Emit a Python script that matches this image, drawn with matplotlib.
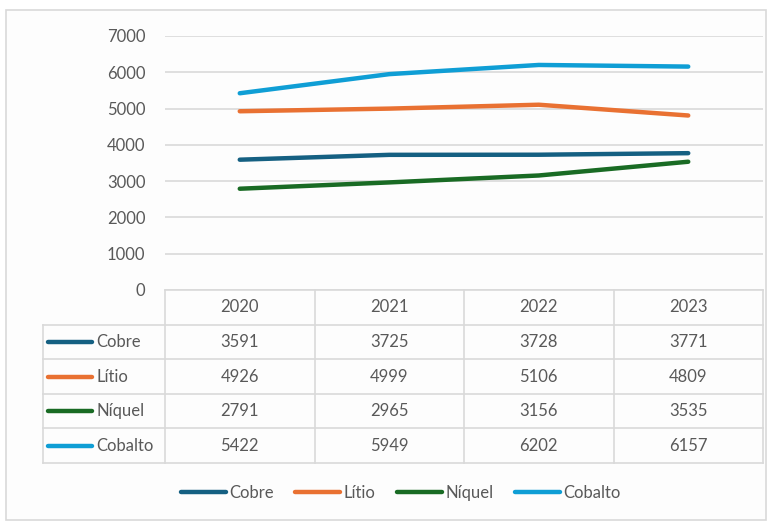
import numpy as np
import matplotlib
matplotlib.use('Agg')
from matplotlib import pyplot as plt
from matplotlib import transforms
from matplotlib.lines import Line2D
from matplotlib.patches import Rectangle

years = ['2020', '2021', '2022', '2023']
series = ['Cobre', 'Lítio', 'Níquel', 'Cobalto']
cobre = [3591, 3725, 3728, 3771]
litio = [4926, 4999, 5106, 4809]
niquel = [2791, 2965, 3156, 3535]
cobalto = [5422, 5949, 6202, 6157]
values = [cobre, litio, niquel, cobalto]
colors = ['#156082', '#E97132', '#196B24', '#0F9ED5']
y_ticks = [0, 1000, 2000, 3000, 4000, 5000, 6000, 7000]

plt.rcParams['font.family'] = ['Lato', 'DejaVu Sans']
text_col = '#595959'
grid_col = '#D9D9D9'

fig = plt.figure(figsize=(7.72, 5.23), dpi=100)
fig.patch.set_facecolor('white')
# chart area border
fig.patches.append(Rectangle((6/772, 1 - 520/523), 760/772, 510/523, transform=fig.transFigure,
                             facecolor='#FDFDFD', edgecolor='#D9D9D9', lw=1.2, zorder=-1))

ax = fig.add_axes([165/772, 1 - 290/523, 598/772, 254/523])
ax.set_facecolor('none')
x = np.arange(len(years))
for name, vals, c in zip(series, values, colors):
    ax.plot(x, vals, color=c, lw=3.2, solid_capstyle='round', solid_joinstyle='round', label=name, zorder=3)

ax.set_xlim(-0.5, 3.5)
ax.set_ylim(0, 7000)
ax.set_yticks(y_ticks)
ax.set_yticklabels([str(t) for t in y_ticks], fontsize=12, color=text_col)
ax.tick_params(axis='y', length=0, pad=14)
ax.set_xticks([])
ax.grid(axis='y', color=grid_col, lw=1.2)
for s in ax.spines.values():
    s.set_visible(False)

# data table below the plot
tr = transforms.blended_transform_factory(ax.transData, ax.transAxes)
row_h = 34.6 / 254
left = -1.316
n_rows = len(series) + 1
bottom = -row_h * n_rows
lk = dict(color=grid_col, lw=1.2, transform=tr, clip_on=False)
ax.add_line(Line2D([-0.5, 3.5], [0, 0], **lk))
for i in range(1, n_rows + 1):
    ax.add_line(Line2D([left, 3.5], [-row_h * i] * 2, **lk))
for xv in [-0.5, 0.5, 1.5, 2.5, 3.5]:
    ax.add_line(Line2D([xv, xv], [0, bottom], **lk))
ax.add_line(Line2D([left, left], [-row_h, bottom], **lk))

for j, yr in enumerate(years):
    ax.text(j, -row_h * 0.5, yr, transform=tr, ha='center', va='center', fontsize=12, color=text_col)
for i, (name, vals, c) in enumerate(zip(series, values, colors)):
    yc = -row_h * (i + 1.5)
    ax.add_line(Line2D([-1.283, -0.985], [yc, yc], color=c, lw=3.2, solid_capstyle='round',
                       transform=tr, clip_on=False))
    ax.text(-0.96, yc, name, transform=tr, ha='left', va='center', fontsize=12, color=text_col)
    for j, v in enumerate(vals):
        ax.text(j, yc, str(v), transform=tr, ha='center', va='center', fontsize=12, color=text_col)

leg = fig.legend(loc='center', bbox_to_anchor=(0.519, 1 - 493/523), ncol=4, frameon=False,
                 fontsize=12, handlelength=2.7, handletextpad=0.2, columnspacing=1.3,
                 labelcolor=text_col)

fig.savefig('out.png', dpi=100)
